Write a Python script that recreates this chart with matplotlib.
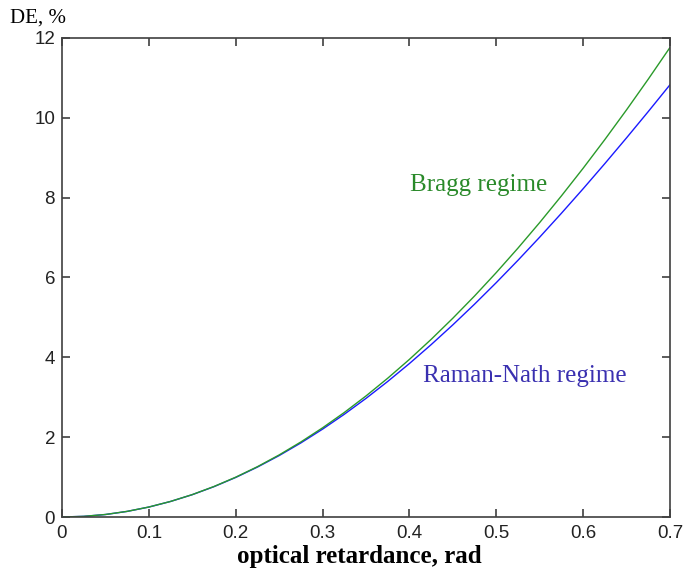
import matplotlib
matplotlib.use("Agg")
import matplotlib.pyplot as plt

# optical retardance (rad)
retardance = [0.0, 0.025, 0.05, 0.075, 0.1, 0.125, 0.15, 0.175, 0.2, 0.225, 0.25, 0.275,
              0.3, 0.325, 0.35, 0.375, 0.4, 0.425, 0.45, 0.475, 0.5, 0.525, 0.55, 0.575,
              0.6, 0.625, 0.65, 0.675, 0.7]
# diffraction efficiency, %
bragg = [0.0, 0.016, 0.063, 0.141, 0.250, 0.390, 0.561, 0.764, 0.997, 1.260, 1.554, 1.879,
         2.233, 2.617, 3.031, 3.475, 3.947, 4.448, 4.978, 5.535, 6.121, 6.734, 7.374, 8.041,
         8.733, 9.452, 10.196, 10.965, 11.758]
raman_nath = [0.0, 0.016, 0.062, 0.140, 0.249, 0.389, 0.559, 0.760, 0.990, 1.250, 1.538, 1.855,
              2.200, 2.572, 2.970, 3.394, 3.843, 4.316, 4.812, 5.330, 5.869, 6.429, 7.008, 7.606,
              8.220, 8.850, 9.495, 10.153, 10.824]

serif = ["Liberation Serif", "DejaVu Serif"]
narrow = ["Liberation Sans Narrow", "Liberation Sans", "DejaVu Sans"]

fig = plt.figure(figsize=(6.85, 5.74), dpi=100)
ax = fig.add_axes([0.0905, 0.0993, 0.8875, 0.8347])

ax.plot(retardance, raman_nath, color="#1a1aff", linewidth=1.0)
ax.plot(retardance, bragg, color="#2a9a2a", linewidth=1.0)

ax.set_xlim(0, 0.7)
ax.set_ylim(0, 12)
ax.set_xticks([0, 0.1, 0.2, 0.3, 0.4, 0.5, 0.6, 0.7])
ax.set_xticklabels(["0", "0.1", "0.2", "0.3", "0.4", "0.5", "0.6", "0.7"])
ax.set_yticks([0, 2, 4, 6, 8, 10, 12])

for s in ax.spines.values():
    s.set_color("#404040")
    s.set_linewidth(1.2)
ax.tick_params(direction="in", top=True, right=True, length=6, width=1.2,
               color="#404040", labelcolor="#222222", labelsize=13.5)
ax.tick_params(axis="x", pad=6)
ax.tick_params(axis="y", pad=5)
for lab in ax.get_xticklabels() + ax.get_yticklabels():
    lab.set_family(narrow)

ax.text(0.401, 8.32, "Bragg regime", color="#2a8a2a", fontsize=18,
        family=serif, va="center", ha="left")
ax.text(0.4156, 3.53, "Raman-Nath regime", color="#3a30b0", fontsize=18,
        family=serif, va="center", ha="left")

fig.text(0.014, 0.968, "DE, %", fontsize=15, family=serif, va="center", ha="left")
fig.text(0.525, 0.03, "optical retardance, rad", fontsize=18, fontweight="bold",
         family=serif, va="center", ha="center")

fig.savefig("out.png", dpi=100)
